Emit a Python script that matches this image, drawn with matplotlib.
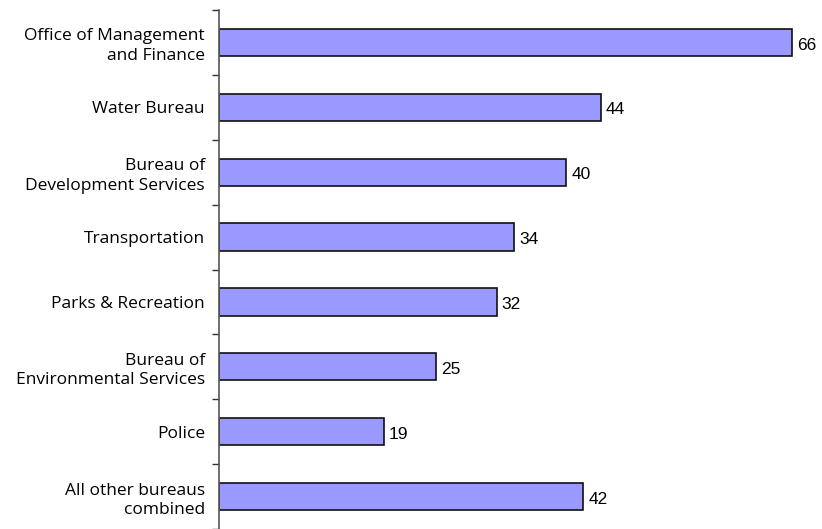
import matplotlib.pyplot as plt
import numpy as np

# datos del grafico
categorias = ['Office of Management\nand Finance', 'Water Bureau', 'Bureau of\nDevelopment Services',
              'Transportation', 'Parks & Recreation', 'Bureau of\nEnvironmental Services',
              'Police', 'All other bureaus\ncombined']
valores = [66, 44, 40, 34, 32, 25, 19, 42]

fig = plt.figure(figsize=(8.22, 5.29), dpi=100)
ax = fig.add_axes([219/822, 0, 1 - 219/822, 1 - 10/529])

y = np.arange(len(categorias))
barras = ax.barh(y, valores, height=0.42, color='#9999ff', edgecolor='#111111', linewidth=1.2)
ax.set_ylim(len(categorias) - 0.5, -0.5)
ax.set_xlim(0, 69.5)

for barra, valor in zip(barras, valores):
    ax.text(barra.get_width() + 0.6, barra.get_y() + barra.get_height()/2 + 0.04, str(valor),
            ha='left', va='center', fontsize=12.5, family='Liberation Sans')

ax.set_yticks(y)
ax.set_yticklabels(categorias, fontsize=12.5, family='Open Sans', ha='right', linespacing=1.3)
ax.tick_params(axis='y', which='major', length=0, pad=10)
ax.set_yticks(np.arange(-0.5, len(categorias), 1), minor=True)
ax.tick_params(axis='y', which='minor', length=5, width=1, color='#333333', direction='out')
for lbl in ax.get_yticklabels():
    lbl.set_multialignment('right')

ax.set_xticks([])
for lado in ['top', 'right', 'bottom']:
    ax.spines[lado].set_visible(False)
ax.spines['left'].set_color('#555555')
ax.spines['left'].set_linewidth(1.2)

plt.savefig('out.png', dpi=100)
